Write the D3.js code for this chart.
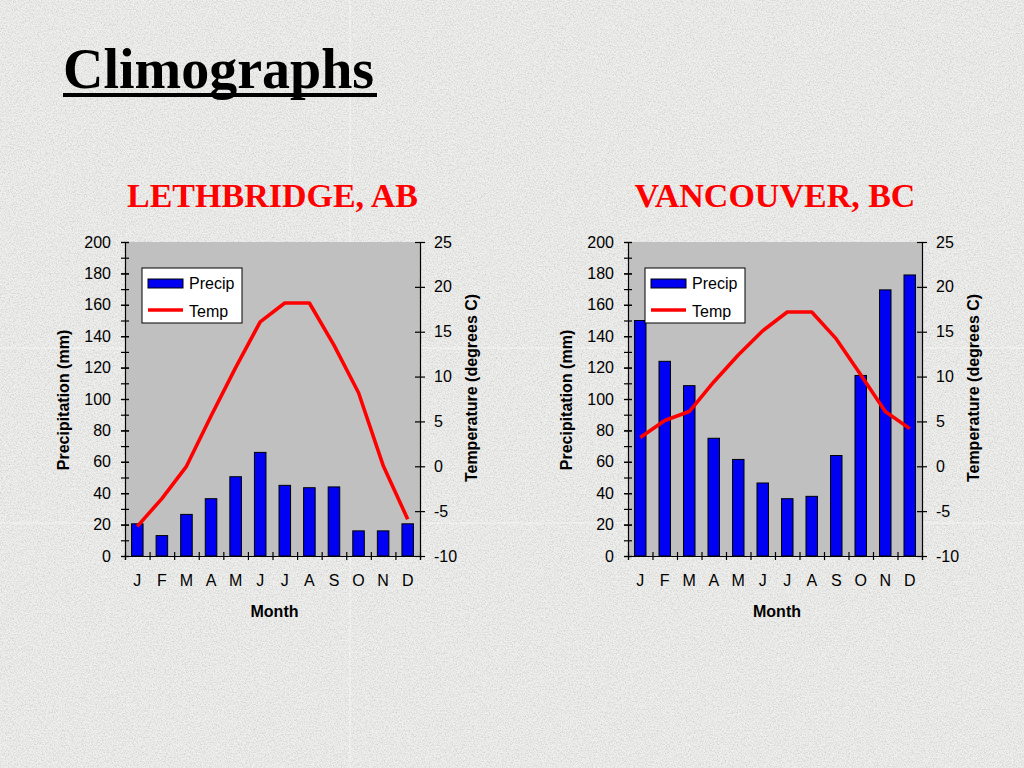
<!DOCTYPE html>
<html>
<head>
<meta charset="utf-8">
<script src="https://cdn.jsdelivr.net/npm/d3@7"></script>
<style>
  html, body { margin: 0; padding: 0; background: #e8e8e6; }
  svg { display: block; }
</style>
</head>
<body>
<script>
// climographs: monthly precip bars (left axis) + temp line (right axis)

var months = ["J", "F", "M", "A", "M", "J", "J", "A", "S", "O", "N", "D"];

var lethPrecip = [20.5, 13, 26.5, 36.5, 50.5, 66, 45, 43.5, 44, 16, 16, 20.5];
var lethTemp = [-6.7, -3.6, 0, 5.6, 11, 16.1, 18.2, 18.2, 13.5, 8.2, 0.1, -5.9];

var vanPrecip = [150, 124, 108.5, 75, 61.5, 46.5, 36.5, 38, 64, 115, 169.5, 179];
var vanTemp = [3.2, 5.1, 6.1, 9.4, 12.4, 15.1, 17.2, 17.2, 14.2, 10.2, 6.1, 4.2];

var precipTicks = [0, 20, 40, 60, 80, 100, 120, 140, 160, 180, 200];
var tempTicks = [-10, -5, 0, 5, 10, 15, 20, 25];

var seriesNames = ["Precip", "Temp"];

var W = 1024, H = 768;
var sans = "'Liberation Sans', Arial, sans-serif";
var serif = "'Liberation Serif', 'Times New Roman', serif";

var svg = d3.select("body").append("svg").attr("width", W).attr("height", H);

// granite-ish background
var defs = svg.append("defs");
var grain = defs.append("filter").attr("id", "grain").attr("x", 0).attr("y", 0).attr("width", 1).attr("height", 1);
grain.append("feTurbulence").attr("type", "fractalNoise").attr("baseFrequency", 0.75).attr("numOctaves", 2).attr("seed", 7);
grain.append("feColorMatrix").attr("type", "matrix")
  .attr("values", "0 0 0 0 0.55  0 0 0 0 0.55  0 0 0 0 0.54  1.6 0 0 0 -0.62");

svg.append("rect").attr("width", W).attr("height", H).attr("fill", "#f0f0ee");
svg.append("rect").attr("width", W).attr("height", H).attr("filter", "url(#grain)");

// faint tile seams of the slide texture
svg.append("line").attr("x1", 350).attr("x2", 350).attr("y1", 0).attr("y2", H)
  .attr("stroke", "#fff").attr("stroke-opacity", 0.55);
[348, 523].forEach(function (y) {
  svg.append("line").attr("x1", 0).attr("x2", W).attr("y1", y).attr("y2", y)
    .attr("stroke", "#fff").attr("stroke-opacity", 0.55);
});

// page title
svg.append("text").attr("x", 63).attr("y", 88)
  .style("font-family", serif).style("font-weight", "bold").style("font-size", "56px")
  .attr("fill", "#000").text("Climographs");
svg.append("rect").attr("x", 63).attr("y", 93).attr("width", 314).attr("height", 4).attr("fill", "#000");

drawClimograph({ x: 125, y: 242, w: 295, h: 314, title: "LETHBRIDGE, AB", precip: lethPrecip, temp: lethTemp });
drawClimograph({ x: 628, y: 242, w: 294, h: 314, title: "VANCOUVER, BC", precip: vanPrecip, temp: vanTemp });

function drawClimograph(c) {
  var g = svg.append("g").attr("transform", "translate(" + c.x + "," + c.y + ")");

  var x = d3.scaleBand().domain(d3.range(12)).range([0, c.w]).paddingInner(0.53).paddingOuter(0.265);
  var xEdge = d3.scaleLinear().domain([0, 12]).range([0, c.w]);
  var yP = d3.scaleLinear().domain([0, 200]).range([c.h, 0]);
  var yT = d3.scaleLinear().domain([-10, 25]).range([c.h, 0]);
  var plain = function (d) { return String(d); };  // keep ascii hyphen for negatives

  g.append("rect").attr("width", c.w).attr("height", c.h).attr("fill", "#c0c0c0");

  // bars
  g.selectAll("rect.bar").data(c.precip).enter().append("rect")
    .attr("class", "bar")
    .attr("x", function (d, i) { return x(i); })
    .attr("width", x.bandwidth())
    .attr("y", function (d) { return yP(d); })
    .attr("height", function (d) { return c.h - yP(d); })
    .attr("fill", "#0000f2").attr("stroke", "#000").attr("stroke-width", 1);

  // temperature line
  var line = d3.line()
    .x(function (d, i) { return x(i) + x.bandwidth() / 2; })
    .y(function (d) { return yT(d); });
  g.append("path").datum(c.temp).attr("d", line)
    .attr("fill", "none").attr("stroke", "#ff0000").attr("stroke-width", 3.6)
    .attr("stroke-linejoin", "round");

  // left axis: minor ticks every 10, labels every 20
  var minor = g.append("g").call(d3.axisLeft(yP).tickValues(d3.range(0, 201, 10)).tickSize(4).tickFormat(""));
  minor.selectAll(".tick line").attr("x2", -4).attr("x1", 4);
  var left = g.append("g").call(d3.axisLeft(yP).tickValues(precipTicks).tickSize(4).tickPadding(10).tickFormat(plain));
  left.selectAll(".tick line").attr("x1", 4);

  // right axis
  var right = g.append("g").attr("transform", "translate(" + c.w + ",0)")
    .call(d3.axisRight(yT).tickValues(tempTicks).tickSize(5).tickPadding(9).tickFormat(plain));
  right.selectAll(".tick line").attr("x1", -5);

  // bottom axis: boundary ticks + centered month labels
  var bottom = g.append("g").attr("transform", "translate(0," + c.h + ")")
    .call(d3.axisBottom(xEdge).ticks(12).tickSize(4).tickFormat(""));
  bottom.selectAll(".tick line").attr("y1", -4);
  var labels = g.append("g").attr("transform", "translate(0," + c.h + ")")
    .call(d3.axisBottom(x).tickSize(0).tickPadding(19).tickFormat(function (i) { return months[i]; }));
  labels.select(".domain").remove();

  [minor, left, right, bottom].forEach(function (a) {
    a.select(".domain").attr("stroke", "#000").attr("stroke-width", 1.2);
    a.selectAll(".tick line").attr("stroke", "#000").attr("stroke-width", 1.2);
  });
  svg.selectAll(".tick text").style("font-family", sans).style("font-size", "16px").attr("fill", "#000");
  minor.select(".domain").remove();

  // titles
  g.append("text").attr("x", c.w / 2).attr("y", -35).attr("text-anchor", "middle")
    .style("font-family", serif).style("font-weight", "bold").style("font-size", "34px")
    .attr("fill", "#ff0000").text(c.title);
  g.append("text").attr("x", c.w / 2 + 2).attr("y", c.h + 61).attr("text-anchor", "middle")
    .style("font-family", sans).style("font-weight", "bold").style("font-size", "16px")
    .text("Month");
  g.append("text").attr("transform", "translate(-56," + (c.h / 2 + 1) + ") rotate(-90)")
    .attr("text-anchor", "middle")
    .style("font-family", sans).style("font-weight", "bold").style("font-size", "16px")
    .text("Precipitation (mm)");
  g.append("text").attr("transform", "translate(" + (c.w + 57) + "," + (c.h / 2 - 11) + ") rotate(-90)")
    .attr("text-anchor", "middle")
    .style("font-family", sans).style("font-weight", "bold").style("font-size", "16px")
    .text("Temperature (degrees C)");

  // legend
  var lg = g.append("g").attr("transform", "translate(17,26)");
  lg.append("rect").attr("width", 100).attr("height", 55).attr("fill", "#fff").attr("stroke", "#000").attr("stroke-width", 1);
  lg.append("rect").attr("x", 6).attr("y", 11).attr("width", 35).attr("height", 9)
    .attr("fill", "#0000f2").attr("stroke", "#000").attr("stroke-width", 1);
  lg.append("line").attr("x1", 6).attr("x2", 41).attr("y1", 42).attr("y2", 42)
    .attr("stroke", "#ff0000").attr("stroke-width", 3.6);
  lg.selectAll("text.lbl").data(seriesNames).enter().append("text")
    .attr("x", 47).attr("y", function (d, i) { return 21 + i * 28; })
    .style("font-family", sans).style("font-size", "16px").text(function (d) { return d; });
}
</script>
</body>
</html>
